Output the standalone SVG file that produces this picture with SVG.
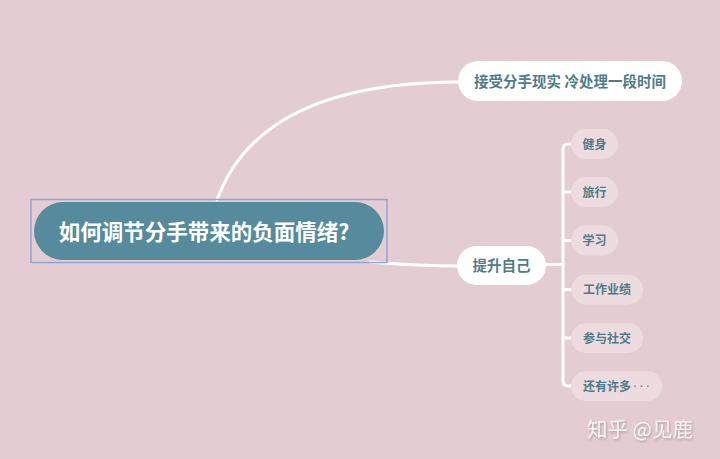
<svg xmlns="http://www.w3.org/2000/svg" width="720" height="459" viewBox="0 0 720 459">
  <style>
    .cjk { font-family: "Noto Sans CJK SC", "Noto Sans", sans-serif; font-weight: bold; }
    .conn { fill: none; stroke: #ffffff; stroke-width: 3; stroke-linecap: round; }
    .pill { fill: #ffffff; }
    .child { fill: #eedbdf; }
    .lbl { fill: #4f7c89; }
  </style>
  <defs>
    <filter id="sh" x="-10%" y="-30%" width="130%" height="160%">
      <feDropShadow dx="1" dy="1.5" stdDeviation="1" flood-color="#6b5a5e" flood-opacity="0.45"/>
    </filter>
  </defs>
  <rect width="720" height="459" fill="#e4cdd2"/>

  <g id="connectors">
    <path class="conn" d="M217,200 Q260,82 460,82"/>
    <path class="conn" d="M370,262 Q420,266 460,266"/>
    <path class="conn" d="M544,264.5 L563,264.5"/>
    <path class="conn" d="M571,144 L568,144 Q563,144 563,149 L563,381 Q563,386 568,386 L571,386"/>
    <path class="conn" d="M563,192 L571,192"/>
    <path class="conn" d="M563,240.5 L571,240.5"/>
    <path class="conn" d="M563,289.5 L571,289.5"/>
    <path class="conn" d="M563,338 L571,338"/>
  </g>

  <g id="root">
    <rect x="34" y="202" width="350" height="58" rx="29" fill="#558b9c"/>
    <rect x="31" y="199.5" width="356" height="63" fill="none" stroke="#8ea5dc" stroke-width="1.5"/>
    <text class="cjk" x="204" y="239.5" font-size="21.5" fill="#ffffff" text-anchor="middle">如何调节分手带来的负面情绪?</text>
  </g>

  <g id="node-accept">
    <rect class="pill" x="458" y="61" width="224" height="40" rx="20"/>
    <text class="cjk lbl" x="570" y="86.5" font-size="14.5" text-anchor="middle">接受分手现实 冷处理一段时间</text>
  </g>

  <g id="node-improve">
    <rect class="pill" x="457" y="246" width="89" height="39" rx="19.5"/>
    <text class="cjk lbl" x="501.5" y="271" font-size="14.5" text-anchor="middle">提升自己</text>
  </g>

  <g id="child-fitness">
    <rect class="child" x="571" y="129" width="47" height="30" rx="15"/>
    <text class="cjk lbl" x="594.5" y="148.5" font-size="12" text-anchor="middle">健身</text>
  </g>
  <g id="child-travel">
    <rect class="child" x="571" y="177" width="47" height="30" rx="15"/>
    <text class="cjk lbl" x="594.5" y="196.5" font-size="12" text-anchor="middle">旅行</text>
  </g>
  <g id="child-study">
    <rect class="child" x="571" y="225.5" width="47" height="30" rx="15"/>
    <text class="cjk lbl" x="594.5" y="245" font-size="12" text-anchor="middle">学习</text>
  </g>
  <g id="child-work">
    <rect class="child" x="571" y="274.5" width="72" height="30" rx="15"/>
    <text class="cjk lbl" x="607" y="294" font-size="12" text-anchor="middle">工作业绩</text>
  </g>
  <g id="child-social">
    <rect class="child" x="571" y="323" width="72" height="30" rx="15"/>
    <text class="cjk lbl" x="607" y="342.5" font-size="12" text-anchor="middle">参与社交</text>
  </g>
  <g id="child-more">
    <rect class="child" x="571" y="371" width="91" height="30" rx="15"/>
    <text class="cjk lbl" x="583" y="390.5" font-size="12">还有许多<tspan font-family="DejaVu Sans, sans-serif" font-weight="normal" letter-spacing="2.5" dx="2">···</tspan></text>
  </g>

  <text class="cjk" x="587" y="437" font-size="20.5" fill="#f7f2f4" filter="url(#sh)" style="font-weight:normal">知乎 @见鹿</text>
</svg>
